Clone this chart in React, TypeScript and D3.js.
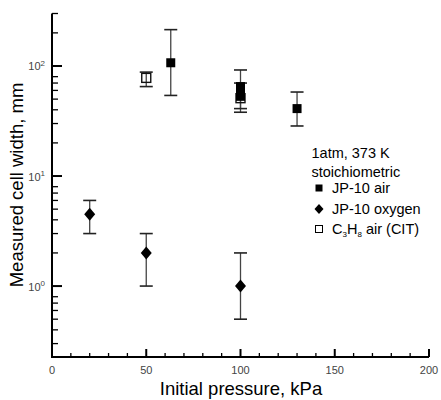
import React from "react";
import * as d3 from "d3";

const jp10AirP = [63, 100, 100, 100, 130];
const jp10AirW = [107, 65, 59, 53, 41];
const jp10AirLo: (number | null)[] = [54, 41, null, null, 28.5];
const jp10AirHi: (number | null)[] = [214, 92, null, null, 58];

const jp10OxP = [20, 50, 100];
const jp10OxW = [4.5, 2.0, 1.0];
const jp10OxLo = [3, 1, 0.5];
const jp10OxHi = [6, 3, 2];

const c3h8P = [50, 100];
const c3h8W = [78, 51];
const c3h8Lo = [65, 38];
const c3h8Hi = [88, 70];

const xTicks = [0, 50, 100, 150, 200];
const yMajor = [1, 10, 100];
const yExp = ["0", "1", "2"];

const W = 441;
const H = 400;

export default function App() {
  const x = d3.scaleLinear().domain([0, 200]).range([52, 429]);
  const y = d3.scaleLog().domain([0.2266, 300]).range([357, 13.5]);

  const xMinor = d3.range(0, 201, 10).filter((v) => v % 50 !== 0);
  const yMinor: number[] = [];
  [0.1, 1, 10, 100].forEach((d) => {
    for (let k = 2; k <= 8; k++) {
      const v = d * k;
      if (v >= 0.2266 && v <= 300) yMinor.push(v);
    }
  });

  const errBar = (px: number, lo: number | null, hi: number | null, key: string) => {
    if (lo == null || hi == null) return null;
    const cx = x(px);
    return (
      <g key={key}>
        <line x1={cx} x2={cx} y1={y(lo)} y2={y(hi)} stroke="#444" strokeWidth={1.3} />
        <line x1={cx - 6.5} x2={cx + 6.5} y1={y(lo)} y2={y(lo)} stroke="#222" strokeWidth={1.6} />
        <line x1={cx - 6.5} x2={cx + 6.5} y1={y(hi)} y2={y(hi)} stroke="#222" strokeWidth={1.6} />
      </g>
    );
  };

  const diamond = (cx: number, cy: number, w: number, h: number) =>
    `M${cx},${cy - h / 2}L${cx + w / 2},${cy}L${cx},${cy + h / 2}L${cx - w / 2},${cy}Z`;

  const font = "'Liberation Sans', Arial, sans-serif";

  return (
    <svg
      width={W}
      height={H}
      style={{ position: "absolute", left: 0, top: 0, background: "#fff" }}
      fontFamily={font}
    >
      <rect width={W} height={H} fill="#fff" />
      {/* error bars */}
      {jp10OxP.map((p, i) => errBar(p, jp10OxLo[i], jp10OxHi[i], "eo" + i))}
      {c3h8P.map((p, i) => errBar(p, c3h8Lo[i], c3h8Hi[i], "ec" + i))}
      {jp10AirP.map((p, i) => errBar(p, jp10AirLo[i], jp10AirHi[i], "ea" + i))}

      {/* C3H8 open squares */}
      {c3h8P.map((p, i) => (
        <rect
          key={"c" + i}
          x={x(p) - 4.5}
          y={y(c3h8W[i]) - 4.5}
          width={9}
          height={9}
          fill="none"
          stroke="#111"
          strokeWidth={1.4}
        />
      ))}
      {/* JP-10 air filled squares */}
      {jp10AirP.map((p, i) => (
        <rect
          key={"a" + i}
          x={x(p) - 4.5}
          y={y(jp10AirW[i]) - 4.5}
          width={9}
          height={9}
          fill="#000"
        />
      ))}
      {/* JP-10 oxygen diamonds */}
      {jp10OxP.map((p, i) => (
        <path key={"o" + i} d={diamond(x(p), y(jp10OxW[i]), 11, 13)} fill="#000" />
      ))}

      {/* axes */}
      <line x1={52} x2={52} y1={y(300)} y2={357} stroke="#000" strokeWidth={2} />
      <line x1={51} x2={429} y1={357} y2={357} stroke="#000" strokeWidth={2} />
      {xTicks.map((t) => (
        <g key={"xt" + t}>
          <line x1={x(t)} x2={x(t)} y1={357} y2={349} stroke="#000" strokeWidth={2} />
          <text x={x(t)} y={373.5} textAnchor="middle" fontSize={11} fill="#444">
            {t}
          </text>
        </g>
      ))}
      {xMinor.map((t) => (
        <line key={"xm" + t} x1={x(t)} x2={x(t)} y1={357} y2={353} stroke="#000" strokeWidth={1.3} />
      ))}
      {yMajor.map((t, i) => (
        <g key={"ym" + t}>
          <line x1={52} x2={62} y1={y(t)} y2={y(t)} stroke="#000" strokeWidth={2} />
          <text x={45} y={y(t) + 4.5} textAnchor="end" fontSize={11} fill="#444">
            10
            <tspan dy={-4.5} fontSize={8}>
              {yExp[i]}
            </tspan>
          </text>
        </g>
      ))}
      {yMinor.map((t) => (
        <line key={"yn" + t} x1={52} x2={58} y1={y(t)} y2={y(t)} stroke="#000" strokeWidth={1.3} />
      ))}

      {/* axis titles */}
      <text x={241} y={395} textAnchor="middle" fontSize={18.5} fill="#000">
        Initial pressure, kPa
      </text>
      <text
        transform="translate(23,185) rotate(-90)"
        textAnchor="middle"
        fontSize={18.5}
        fill="#000"
      >
        Measured cell width, mm
      </text>

      {/* legend */}
      <g fontSize={14.5} fill="#000">
        <text x={311.5} y={158}>1atm, 373 K</text>
        <text x={311.5} y={176.5}>stoichiometric</text>
        <rect x={315.5} y={184.5} width={7} height={7} fill="#000" />
        <text x={332} y={193}>JP-10 air</text>
        <path d={diamond(319, 209, 9, 10)} fill="#000" />
        <text x={332} y={214}>JP-10 oxygen</text>
        <rect x={315.5} y={225.5} width={7} height={7} fill="none" stroke="#000" strokeWidth={1} />
        <text x={332} y={234}>
          C
          <tspan dy={3} fontSize={8}>3</tspan>
          <tspan dy={-3}>H</tspan>
          <tspan dy={3} fontSize={8}>8</tspan>
          <tspan dy={-3}> air (CIT)</tspan>
        </text>
      </g>
    </svg>
  );
}
